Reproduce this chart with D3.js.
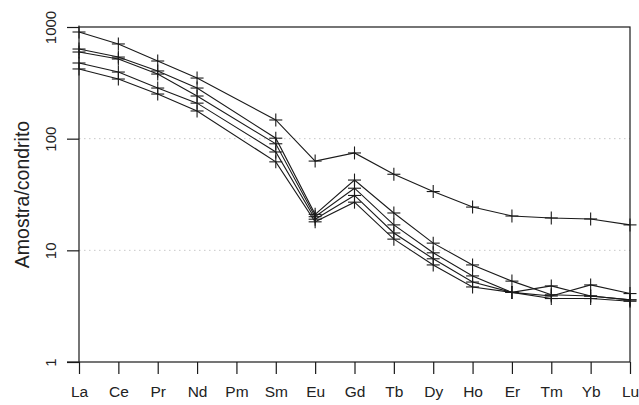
<!DOCTYPE html>
<html>
<head>
<meta charset="utf-8">
<script src="https://cdn.jsdelivr.net/npm/d3@7"></script>
<style>
  html, body { margin: 0; padding: 0; background: #fff; }
  svg { display: block; font-family: "Liberation Sans", Arial, Helvetica, sans-serif; }
</style>
</head>
<body>
<svg id="chart" width="639" height="405"></svg>
<script>
// ---- data ----
const elements = ["La","Ce","Pr","Nd","Pm","Sm","Eu","Gd","Tb","Dy","Ho","Er","Tm","Yb","Lu"];
const yTicks = [1, 10, 100, 1000];
const yTickLabels = ["1", "10", "100", "1000"];
const gridValues = [10, 100];
const yLabel = "Amostra/condrito";
const sample1 = [902, 705, 496, 349, null, 147, 63, 74.5, 48, 33.6, 24.4, 20.3, 19.5, 19.1, 16.9];
const sample2 = [635, 538, 404, 284, null, 101, 21, 42.6, 21.6, 11.6, 7.4, 5.3, 4.0, 3.9, 3.6];
const sample3 = [597, 517, 379, 241, null, 90, 20, 36, 16.9, 9.5, 5.9, 4.2, 4.8, 3.9, 3.6];
const sample4 = [476, 395, 284, 208, null, 76, 19, 31, 14.3, 8.4, 5.2, 4.2, 3.9, 4.9, 4.1];
const sample5 = [421, 342, 251, 177, null, 62, 18, 27, 12.6, 7.4, 4.7, 4.2, 3.7, 3.7, 3.5];
const series = [sample1, sample2, sample3, sample4, sample5];

(function () {
// ---- layout ----
const svg = d3.select("#chart");
const pLeft = 79, pRight = 630, pTop = 27, pBottom = 362;
const x = d3.scalePoint().domain(elements).range([pLeft, pRight]);
const y = d3.scaleLog().domain([1, 1000]).range([pBottom, pTop]);
const ink = "#1a1a1a";

// grid
svg.append("g").selectAll("line").data(gridValues).join("line")
  .attr("x1", pLeft).attr("x2", pRight)
  .attr("y1", d => y(d)).attr("y2", d => y(d))
  .attr("stroke", "#c8c8c8").attr("stroke-width", 1)
  .attr("stroke-dasharray", "1.5,3.5");

// series lines
const line = d3.line().x(d => x(d.el)).y(d => y(d.v));
series.forEach(s => {
  const pts = elements.map((el, i) => ({el, v: s[i]})).filter(d => d.v != null);
  svg.append("path").datum(pts)
    .attr("d", line).attr("fill", "none")
    .attr("stroke", ink).attr("stroke-width", 1.1);
  const g = svg.append("g");
  const arm = 6.5;
  pts.forEach(d => {
    const cx = x(d.el), cy = y(d.v);
    g.append("line").attr("x1", cx - arm).attr("x2", cx + arm).attr("y1", cy).attr("y2", cy)
      .attr("stroke", ink).attr("stroke-width", 1.1);
    g.append("line").attr("x1", cx).attr("x2", cx).attr("y1", cy - arm).attr("y2", cy + arm)
      .attr("stroke", ink).attr("stroke-width", 1.1);
  });
});

// box
svg.append("rect").attr("x", pLeft).attr("y", pTop)
  .attr("width", pRight - pLeft).attr("height", pBottom - pTop)
  .attr("fill", "none").attr("stroke", ink).attr("stroke-width", 1.2);

// y axis
const yAxis = d3.axisLeft(y).tickValues(yTicks)
  .tickFormat((d, i) => yTickLabels[i]).tickSize(12).tickPadding(0);
const gy = svg.append("g").attr("transform", `translate(${pLeft},0)`).call(yAxis);
gy.select(".domain").remove();
gy.selectAll(".tick line").attr("stroke", ink).attr("stroke-width", 1.2);
gy.selectAll(".tick text")
  .attr("x", null).attr("dy", null)
  .attr("transform", `translate(-29,0) rotate(-90)`)
  .attr("text-anchor", "middle").attr("dominant-baseline", "central")
  .attr("font-size", 15).attr("fill", "#222")
  .attr("font-family", "Liberation Sans, Arial, sans-serif");

// x axis
const xAxis = d3.axisBottom(x).tickSize(12).tickPadding(0);
const gx = svg.append("g").attr("transform", `translate(0,${pBottom})`).call(xAxis);
gx.select(".domain").remove();
gx.selectAll(".tick line").attr("stroke", ink).attr("stroke-width", 1.2);
gx.selectAll(".tick text")
  .attr("y", 29).attr("dy", null)
  .attr("text-anchor", "middle").attr("dominant-baseline", "central")
  .attr("font-size", 15.5).attr("fill", "#222")
  .attr("font-family", "Liberation Sans, Arial, sans-serif");

// bottom axis line extending left to tick
svg.append("line").attr("x1", 67).attr("x2", pLeft).attr("y1", pBottom).attr("y2", pBottom)
  .attr("stroke", ink).attr("stroke-width", 1.2);

// y label
svg.append("text")
  .attr("transform", `translate(22,${(pTop + pBottom) / 2}) rotate(-90)`)
  .attr("text-anchor", "middle").attr("dominant-baseline", "central")
  .attr("font-size", 19.5).attr("fill", "#222")
  .text(yLabel);
})();
</script>
</body>
</html>
